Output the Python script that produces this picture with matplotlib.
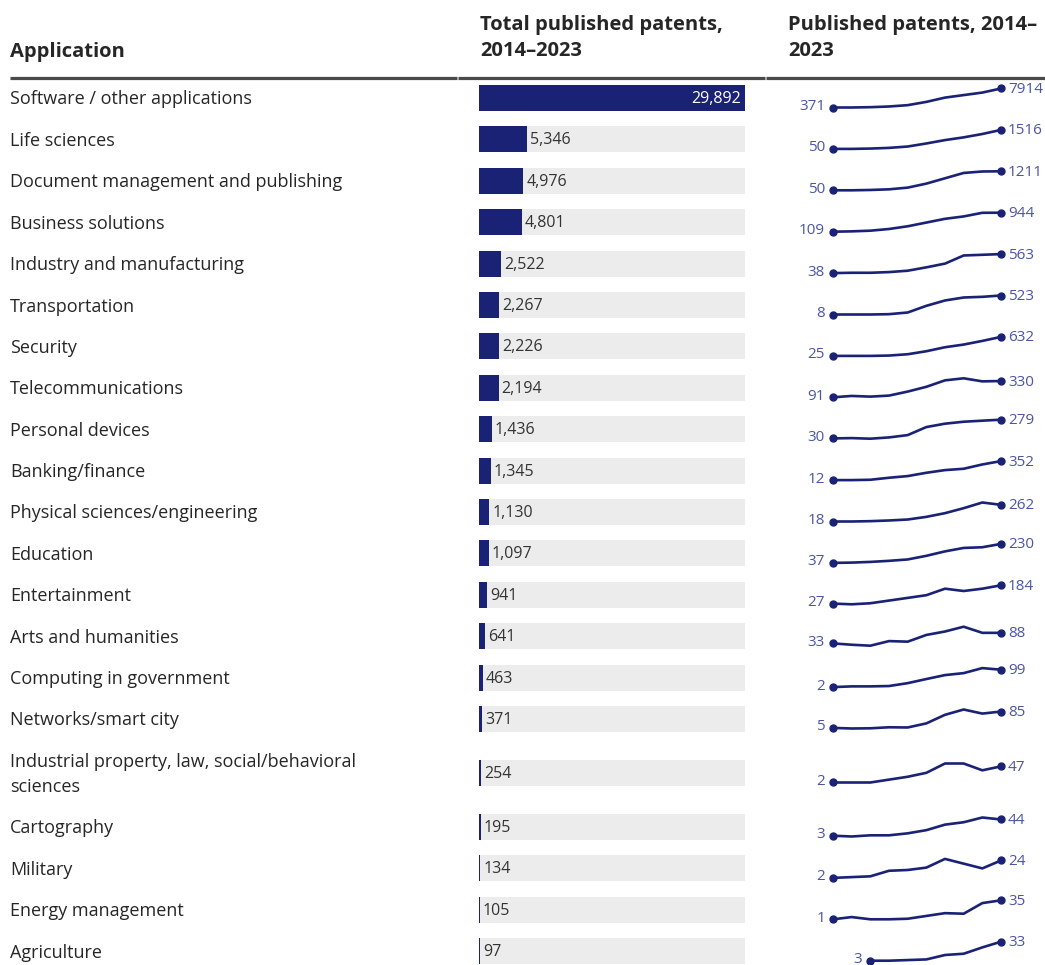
import numpy as np
import matplotlib
matplotlib.use("Agg")
import matplotlib.pyplot as plt

plt.rcParams["font.family"] = ["Open Sans", "DejaVu Sans"]

# ---- data -------------------------------------------------------------
applications = [
    "Software / other applications",
    "Life sciences",
    "Document management and publishing",
    "Business solutions",
    "Industry and manufacturing",
    "Transportation",
    "Security",
    "Telecommunications",
    "Personal devices",
    "Banking/finance",
    "Physical sciences/engineering",
    "Education",
    "Entertainment",
    "Arts and humanities",
    "Computing in government",
    "Networks/smart city",
    "Industrial property, law, social/behavioral\nsciences",
    "Cartography",
    "Military",
    "Energy management",
    "Agriculture",
]

total_patents = [29892, 5346, 4976, 4801, 2522, 2267, 2226, 2194, 1436, 1345,
                 1130, 1097, 941, 641, 463, 371, 254, 195, 134, 105, 97]

years = list(range(2014, 2024))
nan = np.nan
yearly_patents = [
    [371, 371, 500, 770, 1300, 2600, 4300, 5300, 6300, 7914],
    [50, 50, 76, 128, 233, 469, 730, 940, 1200, 1516],
    [50, 50, 70, 110, 213, 458, 784, 1110, 1200, 1211],
    [109, 124, 154, 228, 347, 511, 675, 780, 940, 944],
    [38, 47, 47, 66, 104, 197, 300, 525, 544, 563],
    [8, 8, 8, 17, 62, 243, 388, 469, 487, 523],
    [25, 25, 25, 36, 78, 174, 302, 387, 504, 632],
    [91, 111, 101, 116, 175, 245, 340, 370, 325, 330],
    [30, 34, 26, 43, 74, 181, 226, 252, 266, 279],
    [12, 12, 18, 54, 84, 143, 191, 215, 292, 352],
    [18, 18, 23, 33, 47, 86, 140, 213, 296, 262],
    [37, 40, 47, 58, 72, 109, 154, 189, 196, 230],
    [27, 21, 30, 53, 76, 99, 155, 135, 155, 184],
    [33, 26, 21, 45, 42, 77, 95, 120, 88, 88],
    [2, 6, 6, 8, 24, 47, 69, 80, 108, 99],
    [5, 2, 3, 8, 7, 27, 69, 95, 75, 85],
    [2, 2, 2, 10, 18, 29, 55, 55, 36, 47],
    [3, 1, 4, 4, 9, 17, 31, 37, 49, 44],
    [2, 3, 4, 11, 12, 15, 26, 20, 14, 24],
    [1, 5, 1, 1, 2, 7, 12, 11, 30, 35],
    [nan, nan, 3, 3, 4, 5, 12, 14, 24, 33],
]

# ---- layout -----------------------------------------------------------
W, H = 1045, 965
NAVY = "#1a2276"
SPARK_TXT = "#4b55a3"
BAR_BG = "#ececec"
TXT = "#262626"

row_h = [41.4] * len(applications)
row_h[16] = 66.6
tops = 77.3 + np.concatenate([[0], np.cumsum(row_h)[:-1]])
centers = tops + np.array(row_h) / 2

fig = plt.figure(figsize=(W / 100, H / 100), dpi=100)
fig.patch.set_facecolor("white")

# overlay axes in pixel coordinates for text and rules
ax = fig.add_axes([0, 0, 1, 1])
ax.set_xlim(0, W)
ax.set_ylim(H, 0)
ax.axis("off")

ax.text(10, 52, "Application", fontsize=14.5, fontweight="bold", color=TXT,
        va="center", ha="left")
ax.text(480, 38, "Total published patents,\n2014–2023", fontsize=14.5,
        fontweight="bold", color=TXT, va="center", ha="left", linespacing=1.4)
ax.text(788, 38, "Published patents, 2014–\n2023", fontsize=14.5,
        fontweight="bold", color=TXT, va="center", ha="left", linespacing=1.4)

for x0, x1 in [(10, 457), (458, 765), (766, 1045)]:
    ax.plot([x0, x1], [78, 78], color="#4a4a4a", lw=2.3, solid_capstyle="butt")

for name, c in zip(applications, centers):
    ax.text(10, c + 1.5, name, fontsize=13, color=TXT, va="center", ha="left",
            linespacing=1.5)

# bar column
bx = fig.add_axes([479 / W, 0, 266 / W, 1])
bx.set_xlim(0, max(total_patents))
bx.set_ylim(H, 0)
bx.axis("off")
bx.barh(centers, [max(total_patents)] * len(total_patents), height=26,
        color=BAR_BG)
bx.barh(centers, total_patents, height=26, color=NAVY)
for v, c in zip(total_patents, centers):
    if v > 0.5 * max(total_patents):
        bx.annotate(f"{v:,}", (v, c), xytext=(-4, -1), textcoords="offset pixels",
                    ha="right", va="center", fontsize=11.5, color="white")
    else:
        bx.annotate(f"{v:,}", (v, c), xytext=(3, -1), textcoords="offset pixels",
                    ha="left", va="center", fontsize=11.5, color="#333333")

# sparklines
for vals, c in zip(yearly_patents, centers):
    vals = np.array(vals, dtype=float)
    sx = fig.add_axes([833 / W, 1 - (c + 9.5) / H, 168 / W, 19 / H])
    sx.set_xlim(2014, 2023)
    sx.set_ylim(np.nanmin(vals), np.nanmax(vals))
    sx.axis("off")
    sx.plot(years, vals, color=NAVY, lw=1.9, clip_on=False,
            solid_joinstyle="round", solid_capstyle="round")
    ok = np.where(~np.isnan(vals))[0]
    i0, i1 = ok[0], ok[-1]
    sx.plot([years[i0], years[i1]], [vals[i0], vals[i1]], "o", color=NAVY,
            ms=5, clip_on=False)
    sx.annotate(f"{int(vals[i0])}", (years[i0], vals[i0]), xytext=(-8, 1),
                textcoords="offset pixels", ha="right", va="center",
                fontsize=11, color=SPARK_TXT, annotation_clip=False)
    sx.annotate(f"{int(vals[i1])}", (years[i1], vals[i1]), xytext=(7, -1),
                textcoords="offset pixels", ha="left", va="center",
                fontsize=11, color=SPARK_TXT, annotation_clip=False)

fig.savefig("out.png", dpi=100)
